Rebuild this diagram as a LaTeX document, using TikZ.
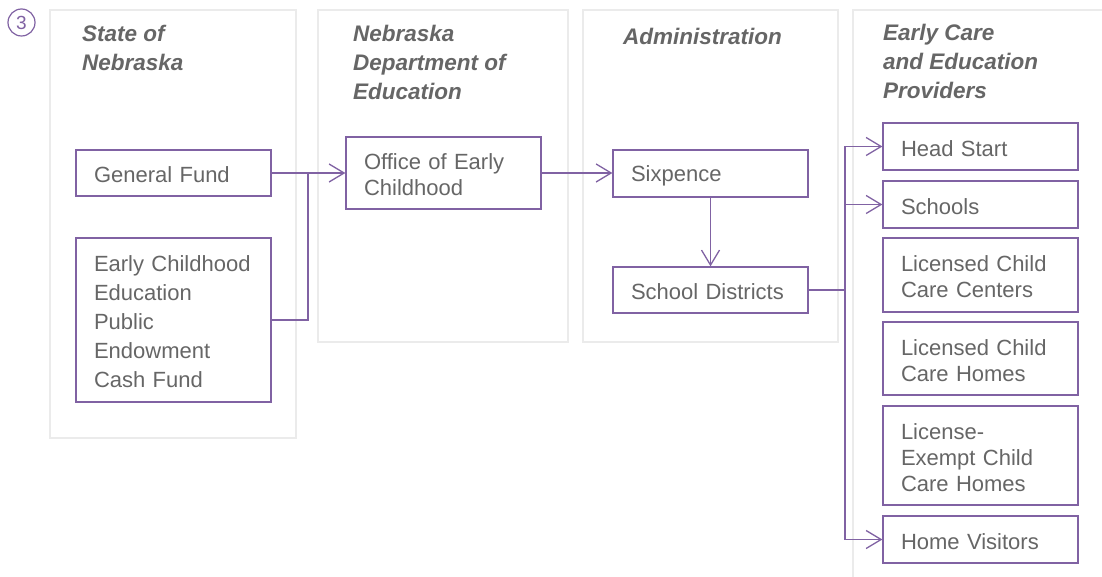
\documentclass[tikz,border=0pt]{standalone}
\usepackage{fontspec}
\setmainfont{Liberation Sans}
\usetikzlibrary{arrows.meta}
\definecolor{pline}{RGB}{128,98,163}
\definecolor{tgray}{RGB}{102,102,102}
\definecolor{cgray}{RGB}{235,235,235}
\newcommand{\fstrut}{\rule{0pt}{20pt}}
\begin{document}
\begin{tikzpicture}[x=1pt,y=-1pt,
  colbox/.style={draw=cgray, line width=2.5pt, inner sep=0pt},
  head/.style={anchor=north west, inner sep=0pt, align=left, text=tgray,
    font=\fontsize{22.5}{29}\selectfont\bfseries\itshape, execute at begin node=\fstrut},
  pbox/.style={draw=pline, line width=1.3pt, inner xsep=18pt, inner ysep=0pt,
    text width=159pt, align=left, text=tgray,
    font=\fontsize{22}{26}\selectfont, execute at begin node=\fstrut},
  arr/.style={-{Straight Barb[length=15pt,width=18pt]}},
  conn/.style={draw=pline, line width=1.3pt}
]
\useasboundingbox (0,0) rectangle (1102,577);
\fill[white] (0,0) rectangle (1102,577);

% column backgrounds
\node[colbox, minimum width=246pt, minimum height=428pt] (col1) at (173,224) {};
\node[colbox, minimum width=250pt, minimum height=332pt] (col2) at (443,176) {};
\node[colbox, minimum width=255pt, minimum height=332pt] (col3) at (710.5,176) {};
\draw[draw=cgray, line width=2.5pt] (1102,10) -- (853,10) -- (853,577);

% number
\node[circle, draw=pline, line width=1.2pt, minimum size=27pt, inner sep=0pt,
  text=pline, font=\fontsize{19}{19}\selectfont] (num) at (21.5,22.5) {3};

% headers
\node[head] (h1) at (82,25) {State of\\Nebraska};
\node[head] (h2) at (353,25) {Nebraska\\Department of\\Education};
\node[head] (h3) at (623,24) {Administration};
\node[head] (h4) at (883,24) {Early Care\\and Education\\Providers};

% boxes
\node[pbox, minimum height=46pt] (gf) at (173.5,173) {General Fund};
\node[pbox, minimum height=164pt, font=\fontsize{22}{29}\selectfont] (ece) at (173.5,320)
  {Early Childhood\\Education\\Public\\Endowment\\Cash Fund};
\node[pbox, minimum height=72pt] (oec) at (443.5,173) {Office of Early\\Childhood};
\node[pbox, minimum height=47pt] (six) at (710.5,173.5) {Sixpence};
\node[pbox, minimum height=46pt] (sd) at (710.5,290) {School Districts};
\node[pbox, minimum height=47pt] (hs) at (980.5,146.5) {Head Start};
\node[pbox, minimum height=47pt] (sch) at (980.5,204.5) {Schools};
\node[pbox, minimum height=74pt] (lccc) at (980.5,275) {Licensed Child\\Care Centers};
\node[pbox, minimum height=73pt] (lcch) at (980.5,358.5) {Licensed Child\\Care Homes};
\node[pbox, minimum height=99pt] (lec) at (980.5,455.5) {License-\\Exempt Child\\Care Homes};
\node[pbox, minimum height=47pt] (hv) at (980.5,539.5) {Home Visitors};

% connectors
\coordinate (j1) at (308,173);
\coordinate (j2) at (845,290);
\draw[conn,arr] (gf.east) -- (oec.west);
\draw[conn] (ece.east) -| (j1);
\draw[conn,arr] (oec.east) -- (oec.east -| six.west);
\draw[conn,arr] (six.south) -- (sd.north);
\draw[conn] (sd.east) -- (j2);
\draw[conn,arr] (j2) |- (hs.west);
\draw[conn,arr] (j2) |- (sch.west);
\draw[conn,arr] (j2) |- (hv.west);
\end{tikzpicture}
\end{document}
